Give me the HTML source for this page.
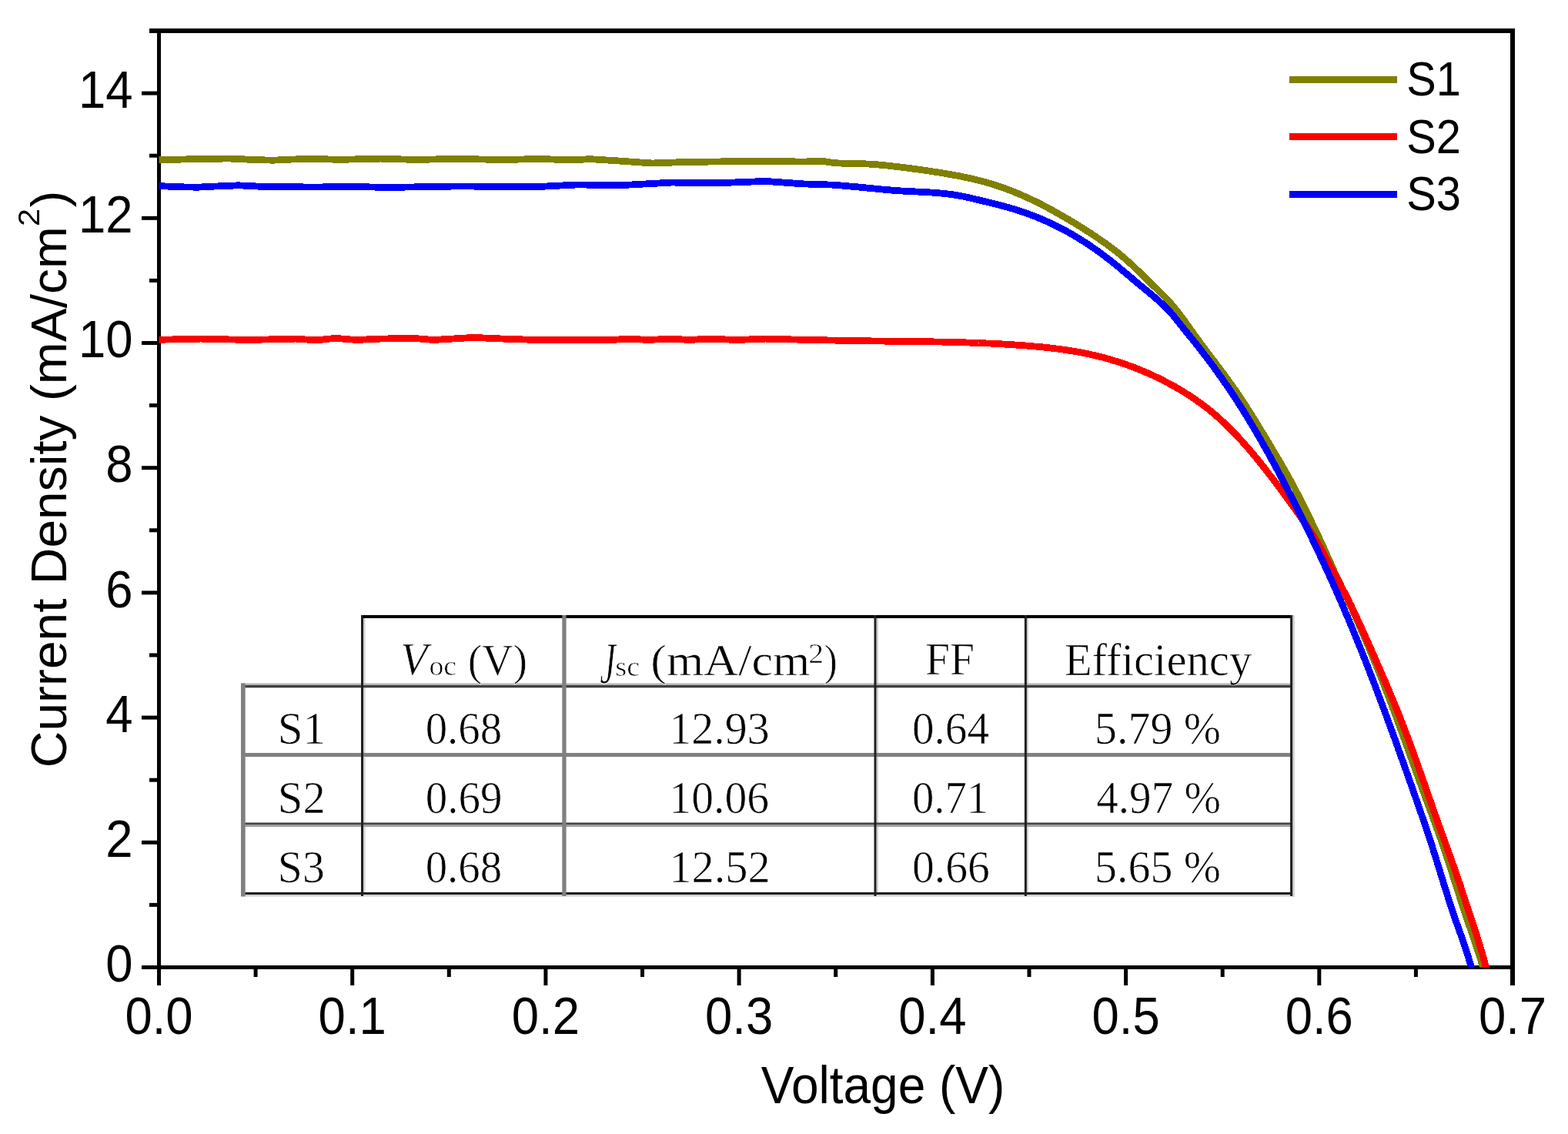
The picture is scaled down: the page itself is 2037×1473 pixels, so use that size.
<!DOCTYPE html><html><head><meta charset="utf-8"><title>J-V curves</title><style>html,body{margin:0;padding:0;background:#fff;}svg{display:block;}</style></head><body><svg width="2037" height="1473" viewBox="0 0 2037 1473">
<defs><clipPath id="pc"><rect x="206.5" y="40" width="1758.5" height="1216.6"/></clipPath></defs>
<rect x="0" y="0" width="2037" height="1473" fill="#fff"/>
<g fill="#000">
<rect x="204" y="37" width="5" height="1222"/>
<rect x="1962" y="37" width="6" height="1222"/>
<rect x="194" y="37" width="1774" height="6"/>
<rect x="184" y="1254" width="1784" height="5"/>
<rect x="184" y="1254.0" width="22" height="5"/>
<rect x="194" y="1172.9" width="12" height="5"/>
<rect x="184" y="1091.8" width="22" height="5"/>
<rect x="194" y="1010.7" width="12" height="5"/>
<rect x="184" y="929.6" width="22" height="5"/>
<rect x="194" y="848.5" width="12" height="5"/>
<rect x="184" y="767.4" width="22" height="5"/>
<rect x="194" y="686.3" width="12" height="5"/>
<rect x="184" y="605.2" width="22" height="5"/>
<rect x="194" y="524.1" width="12" height="5"/>
<rect x="184" y="443.0" width="22" height="5"/>
<rect x="194" y="361.9" width="12" height="5"/>
<rect x="184" y="280.8" width="22" height="5"/>
<rect x="194" y="199.7" width="12" height="5"/>
<rect x="184" y="118.6" width="22" height="5"/>
<rect x="204.0" y="1256" width="5" height="24"/>
<rect x="329.6" y="1256" width="5" height="13"/>
<rect x="455.2" y="1256" width="5" height="24"/>
<rect x="580.8" y="1256" width="5" height="13"/>
<rect x="706.4" y="1256" width="5" height="24"/>
<rect x="832.0" y="1256" width="5" height="13"/>
<rect x="957.6" y="1256" width="5" height="24"/>
<rect x="1083.2" y="1256" width="5" height="13"/>
<rect x="1208.9" y="1256" width="5" height="24"/>
<rect x="1334.5" y="1256" width="5" height="13"/>
<rect x="1460.1" y="1256" width="5" height="24"/>
<rect x="1585.7" y="1256" width="5" height="13"/>
<rect x="1711.3" y="1256" width="5" height="24"/>
<rect x="1836.9" y="1256" width="5" height="13"/>
<rect x="1962" y="1256" width="6" height="24"/>
</g>
<g clip-path="url(#pc)" fill="none" stroke-width="8.8" stroke-linejoin="round" shape-rendering="crispEdges">
<polyline points="206.0,207.4 232.0,207.2 256.0,206.5 298.0,206.0 330.0,207.5 354.6,208.2 380.0,207.0 408.6,206.3 440.5,207.4 494.5,206.1 541.0,207.5 592.7,206.3 654.0,207.6 700.0,206.4 744.0,207.9 766.0,206.6 798.0,208.6 847.0,212.0 884.0,210.7 921.0,210.1 994.5,209.2 1043.6,210.1 1068.0,209.1 1070.1,209.5 1072.2,209.9 1074.3,210.3 1076.3,210.6 1078.4,210.9 1080.5,211.1 1082.6,211.4 1084.7,211.6 1086.8,211.7 1088.9,211.9 1091.0,212.0 1093.2,212.1 1095.3,212.2 1097.4,212.3 1099.5,212.4 1101.6,212.4 1103.7,212.5 1105.8,212.5 1107.9,212.5 1110.0,212.6 1112.1,212.6 1114.3,212.6 1116.4,212.7 1118.5,212.7 1120.6,212.8 1122.7,212.8 1124.8,212.9 1126.9,213.0 1129.0,213.1 1131.1,213.2 1133.2,213.4 1135.3,213.5 1137.4,213.7 1139.5,213.8 1141.6,214.0 1143.7,214.2 1145.8,214.4 1147.9,214.6 1150.0,214.8 1152.1,215.0 1154.2,215.2 1156.3,215.5 1158.4,215.7 1160.5,216.0 1162.6,216.2 1164.7,216.5 1166.8,216.7 1168.9,217.0 1171.0,217.2 1173.1,217.5 1175.2,217.8 1177.3,218.0 1179.4,218.3 1181.5,218.6 1183.6,218.8 1185.7,219.1 1187.7,219.4 1189.8,219.7 1191.9,220.0 1194.0,220.2 1196.1,220.5 1198.2,220.8 1200.3,221.1 1202.4,221.4 1204.5,221.7 1206.6,222.0 1208.7,222.4 1210.8,222.7 1212.8,223.0 1214.9,223.3 1217.0,223.6 1219.1,224.0 1221.2,224.3 1223.3,224.7 1225.4,225.0 1227.4,225.3 1229.5,225.7 1231.6,226.1 1233.7,226.4 1235.7,226.8 1237.8,227.2 1239.9,227.6 1242.0,227.9 1244.0,228.3 1246.1,228.7 1248.2,229.1 1250.2,229.5 1252.3,230.0 1254.4,230.4 1256.4,230.8 1258.5,231.3 1260.5,231.7 1262.6,232.2 1264.6,232.6 1266.7,233.1 1268.7,233.6 1270.8,234.1 1272.8,234.6 1274.9,235.2 1276.9,235.7 1278.9,236.3 1281.0,236.8 1283.0,237.4 1285.0,238.0 1287.0,238.6 1289.1,239.2 1291.1,239.8 1293.1,240.5 1295.1,241.1 1297.1,241.8 1299.1,242.5 1301.1,243.2 1303.1,243.9 1305.1,244.6 1307.1,245.3 1309.1,246.1 1311.0,246.8 1313.0,247.6 1315.0,248.3 1316.9,249.1 1318.9,249.9 1320.8,250.7 1322.8,251.5 1324.7,252.4 1326.7,253.2 1328.6,254.0 1330.5,254.9 1332.5,255.7 1334.4,256.6 1336.3,257.5 1338.2,258.4 1340.1,259.3 1342.0,260.2 1343.9,261.1 1345.8,262.0 1347.7,263.0 1349.6,263.9 1351.4,264.9 1353.3,265.8 1355.2,266.8 1357.0,267.8 1358.9,268.7 1360.8,269.7 1362.6,270.7 1364.5,271.7 1366.3,272.7 1368.2,273.7 1370.0,274.8 1371.9,275.8 1373.7,276.8 1375.5,277.9 1377.4,278.9 1379.2,280.0 1381.0,281.0 1382.9,282.1 1384.7,283.1 1386.5,284.2 1388.3,285.3 1390.1,286.4 1391.9,287.4 1393.8,288.5 1395.6,289.6 1397.4,290.7 1399.2,291.8 1401.0,293.0 1402.8,294.1 1404.5,295.2 1406.3,296.3 1408.1,297.4 1409.9,298.6 1411.7,299.7 1413.5,300.9 1415.2,302.0 1417.0,303.1 1418.8,304.3 1420.5,305.5 1422.3,306.6 1424.0,307.8 1425.8,309.0 1427.5,310.2 1429.3,311.4 1431.0,312.6 1432.7,313.8 1434.5,315.0 1436.2,316.2 1437.9,317.4 1439.6,318.7 1441.3,319.9 1443.0,321.2 1444.7,322.4 1446.3,323.7 1448.0,325.0 1449.7,326.3 1451.3,327.6 1453.0,328.9 1454.6,330.2 1456.2,331.6 1457.8,332.9 1459.4,334.3 1461.0,335.7 1462.6,337.1 1464.2,338.5 1465.8,339.9 1467.4,341.3 1468.9,342.7 1470.5,344.1 1472.0,345.6 1473.6,347.0 1475.1,348.4 1476.6,349.9 1478.2,351.4 1479.7,352.8 1481.2,354.3 1482.7,355.8 1484.3,357.2 1485.8,358.7 1487.3,360.2 1488.8,361.7 1490.3,363.2 1491.8,364.6 1493.3,366.1 1494.8,367.6 1496.3,369.1 1497.8,370.6 1499.3,372.1 1500.8,373.5 1502.3,375.0 1503.9,376.5 1505.4,378.0 1506.9,379.4 1508.4,380.9 1509.9,382.4 1511.4,383.9 1512.8,385.4 1514.3,386.9 1515.8,388.4 1517.2,389.9 1518.6,391.4 1520.0,393.0 1521.4,394.6 1522.8,396.2 1524.1,397.8 1525.5,399.4 1526.8,401.0 1528.1,402.7 1529.4,404.3 1530.7,406.0 1532.0,407.6 1533.3,409.3 1534.5,411.0 1535.8,412.7 1537.0,414.4 1538.3,416.1 1539.5,417.8 1540.7,419.5 1542.0,421.2 1543.2,422.9 1544.4,424.7 1545.7,426.4 1546.9,428.1 1548.1,429.8 1549.3,431.5 1550.6,433.3 1551.8,435.0 1553.0,436.7 1554.3,438.4 1555.5,440.1 1556.8,441.8 1558.0,443.5 1559.3,445.2 1560.5,446.9 1561.8,448.6 1563.0,450.3 1564.3,452.0 1565.6,453.7 1566.8,455.4 1568.1,457.1 1569.4,458.8 1570.6,460.4 1571.9,462.1 1573.2,463.8 1574.5,465.5 1575.7,467.2 1577.0,468.9 1578.3,470.5 1579.5,472.2 1580.8,473.9 1582.1,475.6 1583.4,477.3 1584.6,479.0 1585.9,480.6 1587.1,482.3 1588.4,484.0 1589.7,485.7 1590.9,487.4 1592.2,489.1 1593.4,490.8 1594.6,492.5 1595.9,494.2 1597.1,495.9 1598.3,497.7 1599.6,499.4 1600.8,501.1 1602.0,502.8 1603.2,504.5 1604.4,506.3 1605.6,508.0 1606.8,509.8 1608.0,511.5 1609.2,513.2 1610.3,515.0 1611.5,516.7 1612.7,518.5 1613.8,520.3 1615.0,522.0 1616.2,523.8 1617.3,525.6 1618.5,527.3 1619.6,529.1 1620.8,530.9 1621.9,532.7 1623.0,534.4 1624.2,536.2 1625.3,538.0 1626.4,539.8 1627.5,541.6 1628.7,543.4 1629.8,545.2 1630.9,547.0 1632.0,548.7 1633.1,550.5 1634.2,552.3 1635.3,554.1 1636.4,555.9 1637.5,557.7 1638.6,559.6 1639.7,561.4 1640.8,563.2 1641.9,565.0 1643.0,566.8 1644.1,568.6 1645.2,570.4 1646.2,572.2 1647.3,574.0 1648.4,575.8 1649.5,577.6 1650.6,579.5 1651.6,581.3 1652.7,583.1 1653.8,584.9 1654.9,586.7 1656.0,588.5 1657.0,590.3 1658.1,592.1 1659.2,594.0 1660.2,595.8 1661.3,597.6 1662.4,599.4 1663.4,601.2 1664.5,603.0 1665.5,604.9 1666.6,606.7 1667.6,608.5 1668.7,610.3 1669.7,612.2 1670.8,614.0 1671.8,615.8 1672.8,617.7 1673.9,619.5 1674.9,621.3 1675.9,623.2 1676.9,625.0 1677.9,626.9 1678.9,628.7 1679.9,630.6 1680.9,632.5 1681.9,634.3 1682.9,636.2 1683.8,638.1 1684.8,639.9 1685.8,641.8 1686.7,643.7 1687.7,645.6 1688.7,647.5 1689.6,649.3 1690.6,651.2 1691.5,653.1 1692.5,655.0 1693.4,656.9 1694.4,658.8 1695.3,660.7 1696.2,662.6 1697.2,664.4 1698.1,666.3 1699.1,668.2 1700.0,670.1 1700.9,672.0 1701.8,673.9 1702.8,675.8 1703.7,677.7 1704.6,679.6 1705.5,681.5 1706.5,683.4 1707.4,685.3 1708.3,687.2 1709.2,689.1 1710.1,691.0 1711.0,692.9 1711.9,694.8 1712.8,696.7 1713.7,698.6 1714.6,700.6 1715.5,702.5 1716.4,704.4 1717.2,706.3 1718.1,708.2 1719.0,710.1 1719.9,712.0 1720.7,714.0 1721.6,715.9 1722.5,717.8 1723.3,719.7 1724.2,721.7 1725.1,723.6 1725.9,725.5 1726.8,727.4 1727.6,729.4 1728.5,731.3 1729.3,733.2 1730.2,735.1 1731.1,737.1 1731.9,739.0 1732.8,740.9 1733.7,742.8 1734.6,744.7 1735.5,746.6 1736.4,748.5 1737.3,750.4 1738.2,752.3 1739.1,754.2 1740.0,756.1 1740.9,758.0 1741.8,759.9 1742.7,761.8 1743.6,763.7 1744.5,765.6 1745.5,767.5 1746.3,769.4 1747.2,771.3 1748.1,773.2 1749.0,775.2 1749.9,777.1 1750.8,779.0 1751.6,780.9 1752.5,782.8 1753.4,784.7 1754.3,786.6 1755.1,788.5 1756.0,790.5 1756.9,792.4 1757.7,794.3 1758.6,796.2 1759.5,798.1 1760.3,800.1 1761.2,802.0 1762.0,803.9 1762.9,805.8 1763.7,807.8 1764.6,809.7 1765.4,811.6 1766.3,813.6 1767.1,815.5 1768.0,817.4 1768.8,819.4 1769.7,821.3 1770.5,823.2 1771.3,825.2 1772.2,827.1 1773.0,829.0 1773.8,831.0 1774.7,832.9 1775.5,834.9 1776.3,836.8 1777.1,838.7 1778.0,840.7 1778.8,842.6 1779.6,844.6 1780.4,846.5 1781.2,848.5 1782.0,850.4 1782.9,852.4 1783.7,854.3 1784.5,856.3 1785.3,858.2 1786.1,860.2 1786.9,862.1 1787.7,864.1 1788.5,866.0 1789.3,868.0 1790.1,870.0 1790.9,871.9 1791.7,873.9 1792.4,875.8 1793.2,877.8 1794.0,879.8 1794.8,881.7 1795.6,883.7 1796.3,885.6 1797.1,887.6 1797.9,889.6 1798.7,891.5 1799.4,893.5 1800.2,895.5 1801.0,897.4 1801.7,899.4 1802.5,901.4 1803.3,903.3 1804.0,905.3 1804.8,907.3 1805.5,909.3 1806.3,911.2 1807.0,913.2 1807.8,915.2 1808.5,917.1 1809.3,919.1 1810.0,921.1 1810.8,923.1 1811.5,925.0 1812.2,927.0 1813.0,929.0 1813.7,931.0 1814.4,933.0 1815.2,934.9 1815.9,936.9 1816.6,938.9 1817.4,940.9 1818.1,942.9 1818.8,944.8 1819.5,946.8 1820.3,948.8 1821.0,950.8 1821.7,952.8 1822.4,954.7 1823.1,956.7 1823.9,958.7 1824.6,960.7 1825.3,962.7 1826.0,964.7 1826.7,966.6 1827.4,968.6 1828.2,970.6 1828.9,972.6 1829.6,974.6 1830.3,976.6 1831.0,978.6 1831.7,980.5 1832.4,982.5 1833.2,984.5 1833.9,986.5 1834.6,988.5 1835.3,990.5 1836.0,992.4 1836.7,994.4 1837.5,996.4 1838.2,998.4 1838.9,1000.4 1839.6,1002.4 1840.3,1004.4 1841.0,1006.3 1841.8,1008.3 1842.5,1010.3 1843.2,1012.3 1843.9,1014.3 1844.6,1016.3 1845.4,1018.2 1846.1,1020.2 1846.8,1022.2 1847.5,1024.2 1848.3,1026.2 1849.0,1028.1 1849.7,1030.1 1850.4,1032.1 1851.2,1034.1 1851.9,1036.1 1852.6,1038.0 1853.4,1040.0 1854.1,1042.0 1854.8,1044.0 1855.6,1046.0 1856.3,1047.9 1857.0,1049.9 1857.8,1051.9 1858.5,1053.9 1859.2,1055.9 1860.0,1057.8 1860.7,1059.8 1861.4,1061.8 1862.2,1063.8 1862.9,1065.8 1863.6,1067.7 1864.3,1069.7 1865.1,1071.7 1865.8,1073.7 1866.5,1075.7 1867.2,1077.7 1867.9,1079.6 1868.6,1081.6 1869.4,1083.6 1870.1,1085.6 1870.8,1087.6 1871.5,1089.6 1872.2,1091.6 1872.9,1093.6 1873.6,1095.5 1874.3,1097.5 1874.9,1099.5 1875.6,1101.5 1876.3,1103.5 1877.0,1105.5 1877.7,1107.5 1878.3,1109.5 1879.0,1111.5 1879.7,1113.5 1880.3,1115.5 1881.0,1117.5 1881.7,1119.5 1882.3,1121.5 1883.0,1123.5 1883.6,1125.5 1884.3,1127.5 1884.9,1129.6 1885.6,1131.6 1886.2,1133.6 1886.9,1135.6 1887.5,1137.6 1888.1,1139.6 1888.8,1141.6 1889.4,1143.6 1890.1,1145.6 1890.7,1147.6 1891.4,1149.6 1892.0,1151.6 1892.7,1153.7 1893.3,1155.7 1893.9,1157.7 1894.6,1159.7 1895.2,1161.7 1895.9,1163.7 1896.5,1165.7 1897.2,1167.7 1897.8,1169.7 1898.5,1171.7 1899.1,1173.7 1899.8,1175.7 1900.4,1177.7 1901.1,1179.7 1901.8,1181.7 1902.4,1183.7 1903.1,1185.8 1903.8,1187.8 1904.4,1189.8 1905.1,1191.8 1905.8,1193.8 1906.5,1195.7 1907.2,1197.7 1907.8,1199.7 1908.5,1201.7 1909.2,1203.7 1909.9,1205.7 1910.6,1207.7 1911.3,1209.7 1912.0,1211.7 1912.6,1213.7 1913.3,1215.7 1914.0,1217.7 1914.7,1219.7 1915.4,1221.7 1916.0,1223.7 1916.7,1225.7 1917.4,1227.7 1918.1,1229.7 1918.7,1231.7 1919.4,1233.7 1920.1,1235.7 1920.7,1237.7 1921.4,1239.7 1922.0,1241.8 1922.6,1243.8 1923.3,1245.8 1923.9,1247.8 1924.5,1249.8 1925.2,1251.8 1925.8,1253.8 1926.4,1255.9 1927.0,1257.9 1927.6,1259.9 1928.2,1261.9 1928.7,1264.0 1929.3,1266.0" stroke="#808000"/>
<polyline points="206.0,441.3 261.0,440.1 323.0,441.5 384.0,440.1 411.0,441.9 435.6,439.3 462.6,441.5 494.5,440.1 536.3,439.3 563.3,441.5 614.8,438.4 654.1,440.1 691.0,441.3 798.0,441.3 817.8,440.1 842.0,441.5 871.8,440.1 896.0,441.5 921.0,440.1 957.7,441.5 994.5,440.1 1043.6,441.3 1100.0,442.4 1101.9,442.4 1103.8,442.5 1105.6,442.5 1107.5,442.5 1109.4,442.6 1111.3,442.6 1113.2,442.6 1115.1,442.6 1117.0,442.7 1118.8,442.7 1120.7,442.7 1122.6,442.7 1124.5,442.8 1126.4,442.8 1128.3,442.8 1130.1,442.8 1132.0,442.9 1133.9,442.9 1135.8,442.9 1137.7,442.9 1139.6,442.9 1141.4,443.0 1143.3,443.0 1145.2,443.0 1147.1,443.0 1149.0,443.1 1150.9,443.1 1152.8,443.1 1154.6,443.1 1156.5,443.1 1158.4,443.2 1160.3,443.2 1162.2,443.2 1164.1,443.2 1166.0,443.2 1167.8,443.3 1169.7,443.3 1171.6,443.3 1173.5,443.3 1175.4,443.3 1177.3,443.4 1179.1,443.4 1181.0,443.4 1182.9,443.4 1184.8,443.5 1186.7,443.5 1188.6,443.5 1190.5,443.5 1192.3,443.6 1194.2,443.6 1196.1,443.6 1198.0,443.6 1199.9,443.7 1201.8,443.7 1203.7,443.7 1205.5,443.7 1207.4,443.8 1209.3,443.8 1211.2,443.8 1213.1,443.9 1215.0,443.9 1216.9,443.9 1218.7,444.0 1220.6,444.0 1222.5,444.0 1224.4,444.1 1226.3,444.1 1228.2,444.2 1230.0,444.2 1231.9,444.3 1233.8,444.3 1235.7,444.3 1237.6,444.4 1239.5,444.4 1241.4,444.5 1243.2,444.5 1245.1,444.6 1247.0,444.6 1248.9,444.7 1250.8,444.8 1252.7,444.8 1254.5,444.9 1256.4,444.9 1258.3,445.0 1260.2,445.1 1262.1,445.1 1264.0,445.2 1265.8,445.3 1267.7,445.3 1269.6,445.4 1271.5,445.5 1273.4,445.5 1275.3,445.6 1277.1,445.7 1279.0,445.8 1280.9,445.9 1282.8,445.9 1284.7,446.0 1286.6,446.1 1288.4,446.2 1290.3,446.3 1292.2,446.4 1294.1,446.5 1296.0,446.6 1297.8,446.7 1299.7,446.8 1301.6,446.9 1303.5,447.0 1305.4,447.1 1307.2,447.2 1309.1,447.4 1311.0,447.5 1312.9,447.6 1314.8,447.7 1316.6,447.8 1318.5,448.0 1320.4,448.1 1322.3,448.2 1324.2,448.4 1326.0,448.5 1327.9,448.6 1329.8,448.8 1331.7,448.9 1333.6,449.1 1335.4,449.2 1337.3,449.4 1339.2,449.5 1341.1,449.7 1343.0,449.9 1344.8,450.0 1346.7,450.2 1348.6,450.4 1350.5,450.5 1352.3,450.7 1354.2,450.9 1356.1,451.1 1358.0,451.3 1359.8,451.5 1361.7,451.7 1363.6,451.9 1365.4,452.1 1367.3,452.3 1369.2,452.5 1371.1,452.8 1372.9,453.0 1374.8,453.2 1376.7,453.5 1378.5,453.7 1380.4,454.0 1382.3,454.2 1384.1,454.5 1386.0,454.8 1387.8,455.1 1389.7,455.4 1391.6,455.7 1393.4,456.0 1395.3,456.3 1397.1,456.6 1399.0,456.9 1400.8,457.2 1402.7,457.6 1404.5,457.9 1406.4,458.3 1408.2,458.6 1410.1,459.0 1411.9,459.4 1413.8,459.8 1415.6,460.2 1417.4,460.6 1419.3,461.0 1421.1,461.4 1423.0,461.8 1424.8,462.3 1426.6,462.7 1428.4,463.2 1430.3,463.7 1432.1,464.1 1433.9,464.6 1435.7,465.1 1437.6,465.6 1439.4,466.1 1441.2,466.6 1443.0,467.2 1444.8,467.7 1446.6,468.3 1448.4,468.8 1450.2,469.4 1452.0,469.9 1453.8,470.5 1455.6,471.1 1457.4,471.7 1459.2,472.3 1461.0,472.9 1462.8,473.5 1464.5,474.2 1466.3,474.8 1468.1,475.4 1469.9,476.1 1471.6,476.8 1473.4,477.4 1475.2,478.1 1476.9,478.8 1478.7,479.5 1480.4,480.2 1482.2,480.9 1483.9,481.6 1485.7,482.4 1487.4,483.1 1489.1,483.9 1490.9,484.6 1492.6,485.4 1494.3,486.1 1496.0,486.9 1497.8,487.7 1499.5,488.5 1501.2,489.3 1502.9,490.1 1504.6,490.9 1506.3,491.8 1508.0,492.6 1509.7,493.4 1511.3,494.3 1513.0,495.2 1514.7,496.0 1516.4,496.9 1518.0,497.8 1519.7,498.7 1521.3,499.6 1523.0,500.5 1524.6,501.4 1526.3,502.3 1527.9,503.3 1529.5,504.2 1531.2,505.1 1532.8,506.1 1534.4,507.1 1536.0,508.0 1537.6,509.0 1539.2,510.0 1540.8,511.0 1542.4,512.0 1544.0,513.0 1545.6,514.1 1547.1,515.1 1548.7,516.1 1550.3,517.2 1551.8,518.2 1553.4,519.3 1554.9,520.4 1556.4,521.5 1558.0,522.6 1559.5,523.7 1561.0,524.8 1562.5,525.9 1564.0,527.0 1565.5,528.2 1567.0,529.3 1568.5,530.5 1570.0,531.6 1571.4,532.8 1572.9,534.0 1574.3,535.2 1575.8,536.4 1577.2,537.6 1578.7,538.8 1580.1,540.1 1581.5,541.3 1582.9,542.6 1584.3,543.8 1585.7,545.1 1587.1,546.4 1588.5,547.6 1589.9,548.9 1591.2,550.2 1592.6,551.5 1593.9,552.8 1595.3,554.2 1596.6,555.5 1598.0,556.8 1599.3,558.1 1600.6,559.5 1602.0,560.8 1603.3,562.2 1604.6,563.6 1605.9,564.9 1607.2,566.3 1608.5,567.7 1609.8,569.1 1611.0,570.5 1612.3,571.9 1613.6,573.3 1614.8,574.7 1616.1,576.1 1617.4,577.5 1618.6,578.9 1619.8,580.3 1621.1,581.7 1622.3,583.2 1623.5,584.6 1624.8,586.0 1626.0,587.5 1627.2,588.9 1628.4,590.4 1629.6,591.8 1630.8,593.3 1632.0,594.7 1633.2,596.2 1634.4,597.6 1635.6,599.1 1636.8,600.6 1637.9,602.0 1639.1,603.5 1640.3,605.0 1641.5,606.5 1642.6,607.9 1643.8,609.4 1644.9,610.9 1646.1,612.4 1647.2,613.9 1648.4,615.4 1649.5,616.9 1650.7,618.4 1651.8,619.9 1653.0,621.3 1654.1,622.8 1655.2,624.4 1656.4,625.9 1657.5,627.4 1658.6,628.9 1659.7,630.4 1660.9,631.9 1662.0,633.4 1663.1,634.9 1664.2,636.4 1665.4,637.9 1666.5,639.4 1667.6,641.0 1668.7,642.5 1669.8,644.0 1670.9,645.5 1672.0,647.0 1673.2,648.6 1674.3,650.1 1675.4,651.6 1676.5,653.1 1677.6,654.7 1678.7,656.2 1679.8,657.7 1680.9,659.2 1682.0,660.8 1683.1,662.3 1684.2,663.8 1685.3,665.4 1686.4,666.9 1687.5,668.4 1688.6,670.0 1689.7,671.5 1690.8,673.1 1691.8,674.6 1692.9,676.2 1694.0,677.7 1695.0,679.3 1696.1,680.8 1697.2,682.4 1698.2,683.9 1699.3,685.5 1700.3,687.1 1701.3,688.7 1702.3,690.2 1703.4,691.8 1704.4,693.4 1705.4,695.0 1706.4,696.6 1707.4,698.2 1708.4,699.8 1709.3,701.4 1710.3,703.0 1711.3,704.6 1712.2,706.3 1713.2,707.9 1714.1,709.5 1715.1,711.1 1716.0,712.8 1716.9,714.4 1717.8,716.0 1718.8,717.7 1719.7,719.3 1720.6,721.0 1721.5,722.6 1722.4,724.3 1723.3,725.9 1724.2,727.6 1725.1,729.2 1726.0,730.9 1726.9,732.5 1727.8,734.2 1728.7,735.9 1729.5,737.5 1730.4,739.2 1731.3,740.8 1732.2,742.5 1733.1,744.1 1734.0,745.8 1734.9,747.5 1735.8,749.1 1736.7,750.8 1737.6,752.4 1738.5,754.1 1739.3,755.7 1740.2,757.4 1741.1,759.0 1742.0,760.7 1742.9,762.4 1743.8,764.0 1744.6,765.7 1745.5,767.4 1746.4,769.0 1747.2,770.7 1748.1,772.4 1748.9,774.1 1749.8,775.7 1750.6,777.4 1751.4,779.1 1752.3,780.8 1753.1,782.5 1753.9,784.2 1754.8,785.9 1755.6,787.5 1756.4,789.2 1757.2,790.9 1758.0,792.6 1758.8,794.3 1759.6,796.0 1760.5,797.7 1761.3,799.4 1762.1,801.1 1762.8,802.9 1763.6,804.6 1764.4,806.3 1765.2,808.0 1766.0,809.7 1766.8,811.4 1767.6,813.1 1768.4,814.8 1769.1,816.5 1769.9,818.3 1770.7,820.0 1771.5,821.7 1772.3,823.4 1773.0,825.1 1773.8,826.9 1774.6,828.6 1775.3,830.3 1776.1,832.0 1776.9,833.7 1777.6,835.5 1778.4,837.2 1779.2,838.9 1779.9,840.6 1780.7,842.4 1781.5,844.1 1782.2,845.8 1783.0,847.5 1783.8,849.2 1784.5,851.0 1785.3,852.7 1786.0,854.4 1786.8,856.1 1787.6,857.9 1788.3,859.6 1789.1,861.3 1789.8,863.1 1790.6,864.8 1791.3,866.5 1792.1,868.2 1792.8,870.0 1793.6,871.7 1794.3,873.4 1795.1,875.2 1795.8,876.9 1796.6,878.6 1797.3,880.3 1798.1,882.1 1798.8,883.8 1799.6,885.5 1800.3,887.3 1801.0,889.0 1801.8,890.7 1802.5,892.5 1803.3,894.2 1804.0,895.9 1804.7,897.7 1805.4,899.4 1806.2,901.2 1806.9,902.9 1807.6,904.6 1808.4,906.4 1809.1,908.1 1809.8,909.9 1810.5,911.6 1811.2,913.3 1811.9,915.1 1812.7,916.8 1813.4,918.6 1814.1,920.3 1814.8,922.1 1815.5,923.8 1816.2,925.6 1816.9,927.3 1817.6,929.1 1818.3,930.8 1819.0,932.6 1819.7,934.3 1820.4,936.1 1821.1,937.8 1821.7,939.6 1822.4,941.3 1823.1,943.1 1823.8,944.8 1824.5,946.6 1825.1,948.4 1825.8,950.1 1826.5,951.9 1827.1,953.6 1827.8,955.4 1828.5,957.2 1829.1,958.9 1829.8,960.7 1830.5,962.5 1831.1,964.2 1831.8,966.0 1832.4,967.8 1833.1,969.5 1833.7,971.3 1834.4,973.1 1835.0,974.8 1835.7,976.6 1836.3,978.4 1836.9,980.2 1837.6,981.9 1838.2,983.7 1838.9,985.5 1839.5,987.3 1840.1,989.0 1840.8,990.8 1841.4,992.6 1842.0,994.4 1842.7,996.1 1843.3,997.9 1843.9,999.7 1844.5,1001.5 1845.2,1003.2 1845.8,1005.0 1846.4,1006.8 1847.1,1008.6 1847.7,1010.4 1848.3,1012.1 1848.9,1013.9 1849.6,1015.7 1850.2,1017.5 1850.8,1019.2 1851.4,1021.0 1852.0,1022.8 1852.7,1024.6 1853.3,1026.4 1853.9,1028.1 1854.5,1029.9 1855.2,1031.7 1855.8,1033.5 1856.4,1035.3 1857.0,1037.0 1857.6,1038.8 1858.3,1040.6 1858.9,1042.4 1859.5,1044.2 1860.1,1045.9 1860.8,1047.7 1861.4,1049.5 1862.0,1051.3 1862.6,1053.1 1863.3,1054.8 1863.9,1056.6 1864.5,1058.4 1865.1,1060.2 1865.8,1061.9 1866.4,1063.7 1867.0,1065.5 1867.7,1067.3 1868.3,1069.0 1868.9,1070.8 1869.6,1072.6 1870.2,1074.4 1870.8,1076.1 1871.5,1077.9 1872.1,1079.7 1872.8,1081.5 1873.4,1083.2 1874.0,1085.0 1874.7,1086.8 1875.3,1088.5 1875.9,1090.3 1876.6,1092.1 1877.2,1093.9 1877.9,1095.6 1878.5,1097.4 1879.1,1099.2 1879.8,1100.9 1880.4,1102.7 1881.1,1104.5 1881.7,1106.3 1882.3,1108.0 1883.0,1109.8 1883.6,1111.6 1884.3,1113.3 1884.9,1115.1 1885.5,1116.9 1886.2,1118.7 1886.8,1120.4 1887.4,1122.2 1888.0,1124.0 1888.7,1125.8 1889.3,1127.5 1889.9,1129.3 1890.5,1131.1 1891.2,1132.9 1891.8,1134.7 1892.4,1136.4 1893.0,1138.2 1893.6,1140.0 1894.2,1141.8 1894.8,1143.6 1895.4,1145.4 1896.1,1147.1 1896.7,1148.9 1897.3,1150.7 1897.9,1152.5 1898.4,1154.3 1899.0,1156.1 1899.6,1157.9 1900.2,1159.7 1900.8,1161.5 1901.4,1163.2 1902.0,1165.0 1902.6,1166.8 1903.2,1168.6 1903.8,1170.4 1904.4,1172.2 1904.9,1174.0 1905.5,1175.8 1906.1,1177.6 1906.7,1179.4 1907.3,1181.2 1907.9,1183.0 1908.5,1184.7 1909.1,1186.5 1909.6,1188.3 1910.2,1190.1 1910.8,1191.9 1911.4,1193.7 1912.0,1195.5 1912.6,1197.3 1913.2,1199.1 1913.8,1200.9 1914.4,1202.7 1915.0,1204.4 1915.5,1206.2 1916.1,1208.0 1916.7,1209.8 1917.3,1211.6 1917.9,1213.4 1918.5,1215.2 1919.0,1217.0 1919.6,1218.8 1920.2,1220.6 1920.7,1222.4 1921.3,1224.2 1921.8,1226.0 1922.4,1227.8 1922.9,1229.6 1923.5,1231.4 1924.0,1233.2 1924.6,1235.0 1925.1,1236.8 1925.6,1238.6 1926.1,1240.4 1926.6,1242.2 1927.1,1244.0 1927.6,1245.9 1928.1,1247.7 1928.6,1249.5 1929.1,1251.3 1929.5,1253.2 1930.0,1255.0 1930.5,1256.8 1930.9,1258.6 1931.3,1260.5 1931.8,1262.3 1932.2,1264.2 1932.6,1266.0" stroke="#ff0000"/>
<polyline points="206.0,241.5 232.0,242.8 256.5,243.2 276.0,242.2 310.0,240.8 344.8,242.6 408.6,243.0 465.0,242.5 502.0,243.5 592.7,242.0 700.0,242.5 749.0,240.0 810.0,240.5 871.8,237.1 945.5,237.3 994.5,235.4 1043.6,238.9 1080.5,240.1 1082.6,240.2 1084.6,240.4 1086.7,240.5 1088.7,240.7 1090.8,240.8 1092.8,241.0 1094.9,241.2 1096.9,241.3 1099.0,241.5 1101.0,241.7 1103.1,241.9 1105.1,242.1 1107.2,242.2 1109.2,242.4 1111.3,242.6 1113.3,242.8 1115.4,243.0 1117.4,243.2 1119.4,243.4 1121.5,243.6 1123.5,243.8 1125.6,244.0 1127.6,244.2 1129.7,244.4 1131.7,244.6 1133.8,244.8 1135.8,245.0 1137.8,245.2 1139.9,245.4 1141.9,245.6 1144.0,245.8 1146.0,246.0 1148.1,246.2 1150.1,246.4 1152.2,246.6 1154.2,246.7 1156.3,246.9 1158.3,247.1 1160.4,247.2 1162.4,247.4 1164.5,247.5 1166.5,247.7 1168.6,247.8 1170.6,248.0 1172.7,248.1 1174.7,248.2 1176.8,248.3 1178.9,248.4 1180.9,248.5 1183.0,248.6 1185.1,248.7 1187.1,248.8 1189.2,248.9 1191.2,249.0 1193.3,249.1 1195.4,249.2 1197.4,249.3 1199.5,249.4 1201.6,249.6 1203.6,249.7 1205.7,249.8 1207.7,249.9 1209.8,250.0 1211.9,250.2 1213.9,250.3 1216.0,250.5 1218.0,250.6 1220.1,250.8 1222.1,251.0 1224.2,251.2 1226.2,251.4 1228.2,251.6 1230.3,251.8 1232.3,252.1 1234.3,252.3 1236.4,252.6 1238.4,252.9 1240.4,253.2 1242.4,253.5 1244.5,253.9 1246.5,254.3 1248.5,254.6 1250.5,255.0 1252.5,255.4 1254.5,255.8 1256.5,256.3 1258.5,256.7 1260.5,257.2 1262.5,257.6 1264.5,258.1 1266.5,258.6 1268.5,259.0 1270.5,259.5 1272.5,260.0 1274.5,260.5 1276.5,261.0 1278.5,261.5 1280.5,261.9 1282.5,262.4 1284.5,262.9 1286.5,263.4 1288.5,263.9 1290.5,264.4 1292.5,264.9 1294.5,265.4 1296.5,265.9 1298.5,266.4 1300.5,267.0 1302.5,267.5 1304.4,268.0 1306.4,268.6 1308.4,269.1 1310.4,269.7 1312.4,270.3 1314.3,270.8 1316.3,271.4 1318.3,272.0 1320.2,272.6 1322.2,273.3 1324.2,273.9 1326.1,274.5 1328.1,275.2 1330.0,275.8 1331.9,276.5 1333.9,277.2 1335.8,277.9 1337.7,278.6 1339.7,279.3 1341.6,280.0 1343.5,280.8 1345.4,281.5 1347.3,282.3 1349.2,283.1 1351.1,283.8 1353.0,284.6 1354.9,285.4 1356.8,286.3 1358.6,287.1 1360.5,287.9 1362.4,288.8 1364.3,289.6 1366.1,290.5 1368.0,291.4 1369.8,292.3 1371.7,293.2 1373.5,294.1 1375.3,295.0 1377.2,296.0 1379.0,296.9 1380.8,297.9 1382.6,298.9 1384.4,299.8 1386.2,300.8 1388.0,301.8 1389.8,302.8 1391.6,303.9 1393.4,304.9 1395.2,305.9 1397.0,307.0 1398.7,308.1 1400.5,309.1 1402.3,310.2 1404.0,311.3 1405.8,312.4 1407.5,313.5 1409.2,314.6 1411.0,315.7 1412.7,316.9 1414.4,318.0 1416.1,319.1 1417.8,320.3 1419.5,321.5 1421.2,322.6 1422.9,323.8 1424.6,325.0 1426.3,326.2 1427.9,327.4 1429.6,328.6 1431.3,329.8 1432.9,331.1 1434.6,332.3 1436.2,333.5 1437.8,334.8 1439.5,336.1 1441.1,337.3 1442.7,338.6 1444.3,339.9 1445.9,341.1 1447.5,342.4 1449.1,343.7 1450.7,345.0 1452.3,346.3 1453.9,347.6 1455.5,348.9 1457.0,350.3 1458.6,351.6 1460.2,352.9 1461.8,354.2 1463.3,355.5 1464.9,356.9 1466.5,358.2 1468.0,359.5 1469.6,360.8 1471.2,362.2 1472.7,363.5 1474.3,364.8 1475.9,366.1 1477.5,367.4 1479.0,368.8 1480.6,370.1 1482.2,371.4 1483.8,372.7 1485.4,374.0 1487.0,375.3 1488.5,376.6 1490.1,377.9 1491.7,379.2 1493.3,380.5 1494.9,381.9 1496.5,383.2 1498.1,384.5 1499.6,385.8 1501.2,387.2 1502.7,388.5 1504.3,389.9 1505.8,391.2 1507.3,392.6 1508.9,394.0 1510.4,395.4 1511.8,396.8 1513.3,398.2 1514.8,399.7 1516.2,401.1 1517.6,402.6 1519.0,404.1 1520.4,405.6 1521.8,407.1 1523.1,408.7 1524.4,410.3 1525.8,411.9 1527.0,413.5 1528.3,415.1 1529.6,416.7 1530.9,418.3 1532.2,419.9 1533.4,421.5 1534.7,423.1 1536.0,424.8 1537.3,426.4 1538.6,428.0 1539.9,429.5 1541.2,431.1 1542.5,432.7 1543.7,434.3 1545.0,435.9 1546.3,437.5 1547.6,439.1 1548.9,440.7 1550.2,442.3 1551.5,443.9 1552.8,445.5 1554.1,447.1 1555.3,448.7 1556.6,450.3 1557.9,451.9 1559.1,453.6 1560.4,455.2 1561.7,456.8 1562.9,458.4 1564.2,460.1 1565.4,461.7 1566.7,463.3 1567.9,465.0 1569.2,466.6 1570.4,468.3 1571.7,469.9 1572.9,471.6 1574.1,473.2 1575.3,474.9 1576.6,476.5 1577.8,478.2 1579.0,479.9 1580.2,481.5 1581.4,483.2 1582.6,484.9 1583.8,486.6 1585.0,488.2 1586.2,489.9 1587.4,491.6 1588.6,493.3 1589.7,495.0 1590.9,496.7 1592.1,498.4 1593.3,500.1 1594.4,501.8 1595.6,503.5 1596.7,505.2 1597.9,506.9 1599.0,508.6 1600.2,510.3 1601.3,512.0 1602.4,513.7 1603.6,515.4 1604.7,517.2 1605.8,518.9 1606.9,520.6 1608.0,522.3 1609.2,524.1 1610.3,525.8 1611.4,527.5 1612.5,529.3 1613.6,531.0 1614.7,532.7 1615.8,534.5 1616.8,536.2 1617.9,538.0 1619.0,539.7 1620.1,541.5 1621.1,543.2 1622.2,545.0 1623.3,546.8 1624.3,548.5 1625.4,550.3 1626.5,552.0 1627.5,553.8 1628.6,555.6 1629.6,557.3 1630.7,559.1 1631.7,560.9 1632.7,562.7 1633.8,564.4 1634.8,566.2 1635.8,568.0 1636.9,569.8 1637.9,571.5 1638.9,573.3 1639.9,575.1 1640.9,576.9 1641.9,578.7 1643.0,580.5 1644.0,582.3 1645.0,584.1 1646.0,585.9 1647.0,587.7 1648.0,589.5 1649.0,591.3 1650.0,593.1 1650.9,594.9 1651.9,596.7 1652.9,598.5 1653.9,600.3 1654.9,602.1 1655.9,603.9 1656.8,605.7 1657.8,607.5 1658.8,609.3 1659.8,611.1 1660.7,613.0 1661.7,614.8 1662.6,616.6 1663.6,618.4 1664.6,620.2 1665.5,622.0 1666.5,623.9 1667.4,625.7 1668.4,627.5 1669.3,629.3 1670.3,631.2 1671.2,633.0 1672.2,634.8 1673.1,636.6 1674.1,638.5 1675.0,640.3 1676.0,642.1 1676.9,644.0 1677.8,645.8 1678.8,647.6 1679.7,649.5 1680.6,651.3 1681.6,653.1 1682.5,655.0 1683.4,656.8 1684.3,658.6 1685.3,660.5 1686.2,662.3 1687.1,664.2 1688.0,666.0 1689.0,667.8 1689.9,669.7 1690.8,671.5 1691.7,673.4 1692.6,675.2 1693.5,677.1 1694.4,678.9 1695.3,680.7 1696.3,682.6 1697.2,684.4 1698.1,686.3 1699.0,688.1 1699.9,690.0 1700.8,691.8 1701.7,693.7 1702.6,695.5 1703.5,697.4 1704.4,699.2 1705.2,701.1 1706.1,703.0 1707.0,704.8 1707.9,706.7 1708.8,708.5 1709.7,710.4 1710.6,712.2 1711.5,714.1 1712.3,716.0 1713.2,717.8 1714.1,719.7 1715.0,721.5 1715.8,723.4 1716.7,725.3 1717.6,727.1 1718.4,729.0 1719.3,730.9 1720.2,732.7 1721.0,734.6 1721.9,736.5 1722.8,738.3 1723.6,740.2 1724.5,742.1 1725.3,744.0 1726.2,745.8 1727.0,747.7 1727.9,749.6 1728.7,751.4 1729.6,753.3 1730.4,755.2 1731.3,757.1 1732.1,758.9 1732.9,760.8 1733.8,762.7 1734.6,764.6 1735.5,766.5 1736.3,768.3 1737.1,770.2 1737.9,772.1 1738.8,774.0 1739.6,775.9 1740.4,777.8 1741.2,779.7 1742.1,781.5 1742.9,783.4 1743.7,785.3 1744.5,787.2 1745.3,789.1 1746.1,791.0 1746.9,792.9 1747.7,794.8 1748.5,796.7 1749.4,798.6 1750.2,800.4 1751.0,802.3 1751.8,804.2 1752.5,806.1 1753.3,808.0 1754.1,809.9 1754.9,811.8 1755.7,813.7 1756.5,815.6 1757.3,817.5 1758.1,819.4 1758.9,821.3 1759.6,823.2 1760.4,825.1 1761.2,827.0 1762.0,828.9 1762.8,830.8 1763.5,832.8 1764.3,834.7 1765.1,836.6 1765.8,838.5 1766.6,840.4 1767.4,842.3 1768.1,844.2 1768.9,846.1 1769.7,848.0 1770.4,849.9 1771.2,851.8 1771.9,853.8 1772.7,855.7 1773.5,857.6 1774.2,859.5 1775.0,861.4 1775.7,863.3 1776.5,865.2 1777.2,867.2 1778.0,869.1 1778.7,871.0 1779.5,872.9 1780.2,874.8 1780.9,876.7 1781.7,878.7 1782.4,880.6 1783.2,882.5 1783.9,884.4 1784.6,886.3 1785.4,888.3 1786.1,890.2 1786.8,892.1 1787.6,894.0 1788.3,896.0 1789.0,897.9 1789.8,899.8 1790.5,901.7 1791.2,903.7 1791.9,905.6 1792.7,907.5 1793.4,909.4 1794.1,911.4 1794.8,913.3 1795.5,915.2 1796.3,917.1 1797.0,919.1 1797.7,921.0 1798.4,922.9 1799.1,924.9 1799.8,926.8 1800.6,928.7 1801.3,930.7 1802.0,932.6 1802.7,934.5 1803.4,936.4 1804.1,938.4 1804.8,940.3 1805.5,942.2 1806.2,944.2 1806.9,946.1 1807.6,948.0 1808.4,950.0 1809.1,951.9 1809.8,953.8 1810.5,955.8 1811.2,957.7 1811.9,959.6 1812.6,961.6 1813.3,963.5 1814.0,965.5 1814.7,967.4 1815.4,969.3 1816.1,971.3 1816.7,973.2 1817.4,975.1 1818.1,977.1 1818.8,979.0 1819.5,980.9 1820.2,982.9 1820.9,984.8 1821.6,986.8 1822.3,988.7 1823.0,990.6 1823.7,992.6 1824.4,994.5 1825.1,996.5 1825.7,998.4 1826.4,1000.3 1827.1,1002.3 1827.8,1004.2 1828.5,1006.1 1829.2,1008.1 1829.9,1010.0 1830.6,1012.0 1831.2,1013.9 1831.9,1015.8 1832.6,1017.8 1833.3,1019.7 1834.0,1021.7 1834.7,1023.6 1835.3,1025.6 1836.0,1027.5 1836.7,1029.4 1837.4,1031.4 1838.1,1033.3 1838.8,1035.3 1839.4,1037.2 1840.1,1039.1 1840.8,1041.1 1841.5,1043.0 1842.2,1045.0 1842.8,1046.9 1843.5,1048.8 1844.2,1050.8 1844.9,1052.7 1845.5,1054.7 1846.2,1056.6 1846.9,1058.6 1847.5,1060.5 1848.2,1062.5 1848.9,1064.4 1849.5,1066.3 1850.2,1068.3 1850.9,1070.2 1851.5,1072.2 1852.2,1074.1 1852.8,1076.1 1853.5,1078.0 1854.2,1080.0 1854.8,1081.9 1855.5,1083.9 1856.1,1085.8 1856.7,1087.8 1857.4,1089.7 1858.0,1091.7 1858.7,1093.7 1859.3,1095.6 1859.9,1097.6 1860.6,1099.5 1861.2,1101.5 1861.8,1103.4 1862.4,1105.4 1863.1,1107.4 1863.7,1109.3 1864.3,1111.3 1864.9,1113.3 1865.5,1115.2 1866.1,1117.2 1866.7,1119.1 1867.3,1121.1 1867.9,1123.1 1868.6,1125.0 1869.2,1127.0 1869.8,1129.0 1870.4,1130.9 1871.0,1132.9 1871.6,1134.9 1872.2,1136.8 1872.8,1138.8 1873.4,1140.8 1874.0,1142.7 1874.6,1144.7 1875.2,1146.7 1875.8,1148.6 1876.4,1150.6 1877.1,1152.6 1877.7,1154.5 1878.3,1156.5 1878.9,1158.4 1879.5,1160.4 1880.1,1162.4 1880.8,1164.3 1881.4,1166.3 1882.0,1168.2 1882.6,1170.2 1883.3,1172.2 1883.9,1174.1 1884.6,1176.1 1885.2,1178.0 1885.8,1180.0 1886.5,1181.9 1887.2,1183.9 1887.8,1185.8 1888.5,1187.8 1889.1,1189.7 1889.8,1191.7 1890.5,1193.6 1891.2,1195.6 1891.8,1197.5 1892.5,1199.4 1893.2,1201.4 1893.9,1203.3 1894.6,1205.3 1895.3,1207.2 1896.0,1209.1 1896.6,1211.1 1897.3,1213.0 1898.0,1215.0 1898.7,1216.9 1899.4,1218.8 1900.1,1220.8 1900.7,1222.7 1901.4,1224.7 1902.1,1226.6 1902.7,1228.6 1903.4,1230.5 1904.0,1232.5 1904.7,1234.4 1905.3,1236.4 1906.0,1238.3 1906.6,1240.3 1907.2,1242.3 1907.8,1244.2 1908.4,1246.2 1909.0,1248.1 1909.6,1250.1 1910.2,1252.1 1910.8,1254.1 1911.4,1256.1 1911.9,1258.0 1912.4,1260.0 1913.0,1262.0 1913.5,1264.0 1914.0,1266.0" stroke="#0000ff"/>
</g>
<g>
<rect x="1675" y="99" width="140" height="9" fill="#808000"/>
<rect x="1675" y="173" width="140" height="9" fill="#ff0000"/>
<rect x="1675" y="248" width="140" height="9" fill="#0000ff"/>
</g>
<g fill="#000">
<text x="0" y="0" font-size="57.7" style="font-family:&quot;Liberation Sans&quot;, sans-serif" transform="translate(1827.28,124.28) scale(1,1.1015)">S1</text>
<text x="0" y="0" font-size="57.7" style="font-family:&quot;Liberation Sans&quot;, sans-serif" transform="translate(1827.28,199.18) scale(1,1.0991)">S2</text>
<text x="0" y="0" font-size="57.7" style="font-family:&quot;Liberation Sans&quot;, sans-serif" transform="translate(1827.28,273.28) scale(1,1.0967)">S3</text>
<text x="0" y="0" font-size="63.5" text-anchor="end" style="font-family:&quot;Liberation Sans&quot;, sans-serif" transform="translate(172.6,1275.1) scale(1,1.087)">0</text>
<text x="0" y="0" font-size="63.5" text-anchor="end" style="font-family:&quot;Liberation Sans&quot;, sans-serif" transform="translate(172.6,1112.9) scale(1,1.087)">2</text>
<text x="0" y="0" font-size="63.5" text-anchor="end" style="font-family:&quot;Liberation Sans&quot;, sans-serif" transform="translate(172.6,950.7) scale(1,1.087)">4</text>
<text x="0" y="0" font-size="63.5" text-anchor="end" style="font-family:&quot;Liberation Sans&quot;, sans-serif" transform="translate(172.6,788.5) scale(1,1.087)">6</text>
<text x="0" y="0" font-size="63.5" text-anchor="end" style="font-family:&quot;Liberation Sans&quot;, sans-serif" transform="translate(172.6,626.3) scale(1,1.087)">8</text>
<text x="0" y="0" font-size="63.5" text-anchor="end" style="font-family:&quot;Liberation Sans&quot;, sans-serif" transform="translate(172.6,464.1) scale(1,1.087)">10</text>
<text x="0" y="0" font-size="63.5" text-anchor="end" style="font-family:&quot;Liberation Sans&quot;, sans-serif" transform="translate(172.6,301.9) scale(1,1.087)">12</text>
<text x="0" y="0" font-size="63.5" text-anchor="end" style="font-family:&quot;Liberation Sans&quot;, sans-serif" transform="translate(172.6,139.7) scale(1,1.087)">14</text>
<text x="0" y="0" font-size="63.5" text-anchor="middle" style="font-family:&quot;Liberation Sans&quot;, sans-serif" transform="translate(206.5,1343.1) scale(1,1.087)">0.0</text>
<text x="0" y="0" font-size="63.5" text-anchor="middle" style="font-family:&quot;Liberation Sans&quot;, sans-serif" transform="translate(457.7,1343.1) scale(1,1.087)">0.1</text>
<text x="0" y="0" font-size="63.5" text-anchor="middle" style="font-family:&quot;Liberation Sans&quot;, sans-serif" transform="translate(708.9,1343.1) scale(1,1.087)">0.2</text>
<text x="0" y="0" font-size="63.5" text-anchor="middle" style="font-family:&quot;Liberation Sans&quot;, sans-serif" transform="translate(960.1,1343.1) scale(1,1.087)">0.3</text>
<text x="0" y="0" font-size="63.5" text-anchor="middle" style="font-family:&quot;Liberation Sans&quot;, sans-serif" transform="translate(1211.4,1343.1) scale(1,1.087)">0.4</text>
<text x="0" y="0" font-size="63.5" text-anchor="middle" style="font-family:&quot;Liberation Sans&quot;, sans-serif" transform="translate(1462.6,1343.1) scale(1,1.087)">0.5</text>
<text x="0" y="0" font-size="63.5" text-anchor="middle" style="font-family:&quot;Liberation Sans&quot;, sans-serif" transform="translate(1713.8,1343.1) scale(1,1.087)">0.6</text>
<text x="0" y="0" font-size="63.5" text-anchor="middle" style="font-family:&quot;Liberation Sans&quot;, sans-serif" transform="translate(1965.0,1343.1) scale(1,1.087)">0.7</text>
<text x="0" y="0" font-size="63.98" style="font-family:&quot;Liberation Sans&quot;, sans-serif" transform="translate(988.82,1432.7) scale(1,1.0837)">Voltage (V)</text>
</g>
<g fill="#000" transform="translate(86,997.2) rotate(-90) scale(1,0.975)">
<text x="0" y="0" font-size="65.9" style="font-family:&quot;Liberation Sans&quot;, sans-serif">Current Density (mA/cm</text>
</g>
<g fill="#000" transform="translate(50.9,294.0) rotate(-90) scale(1,0.9286)">
<text x="0" y="0" font-size="41.5" style="font-family:&quot;Liberation Sans&quot;, sans-serif">2</text>
</g>
<g fill="#000" transform="translate(86,269.4) rotate(-90) scale(1,0.975)">
<text x="0" y="0" font-size="65.9" style="font-family:&quot;Liberation Sans&quot;, sans-serif">)</text>
</g>
<g>
<rect x="472" y="803" width="2.5" height="361" fill="#d0d0d0"/>
<rect x="1138.5" y="803" width="2.5" height="361" fill="#d0d0d0"/>
<rect x="1333.9" y="803" width="2" height="361" fill="#d0d0d0"/>
<rect x="1679.1" y="799" width="2.6" height="366" fill="#cccccc"/>
<rect x="469" y="799" width="1210" height="4" fill="#000"/>
<rect x="313" y="887.5" width="1366" height="2.5" fill="#b4b4b4"/>
<rect x="313" y="890" width="1366" height="3.3" fill="#404040"/>
<rect x="313" y="978" width="1366" height="5" fill="#808080"/>
<rect x="313" y="1068.5" width="1366" height="3" fill="#454545"/>
<rect x="313" y="1071.5" width="1366" height="2.5" fill="#a0a0a0"/>
<rect x="313" y="1159" width="1366" height="3" fill="#202020"/>
<rect x="313" y="1162" width="1366" height="2.5" fill="#d0d0d0"/>
<rect x="313" y="887.5" width="5.7" height="277" fill="#808080"/>
<rect x="469" y="799" width="3" height="365" fill="#202020"/>
<rect x="730.3" y="799" width="5.3" height="365" fill="#808080"/>
<rect x="1135.5" y="799" width="3" height="365" fill="#202020"/>
<rect x="1330.9" y="799" width="3" height="365" fill="#202020"/>
<rect x="1676.1" y="799" width="3" height="365" fill="#202020"/>
</g>
<g fill="#000" stroke="#fff" stroke-width="0.7">
<text x="0" y="0" font-size="58.03" style="font-family:&quot;Liberation Serif&quot;, serif;font-style:italic" transform="translate(519.97,876.21) scale(1,1.0083)">V</text>
<text x="0" y="0" font-size="37.71" style="font-family:&quot;Liberation Serif&quot;, serif;" transform="translate(557.46,877.35) scale(1,0.9427)">oc</text>
<text x="0" y="0" font-size="55.68" style="font-family:&quot;Liberation Serif&quot;, serif;" transform="translate(607.75,877.27) scale(1,1.0319)">(V)</text>
<text x="0" y="0" font-size="46.39" style="font-family:&quot;Liberation Serif&quot;, serif;font-style:italic" transform="translate(779.30,887.36) scale(1,1.6413)">J</text>
<text x="0" y="0" font-size="38.36" style="font-family:&quot;Liberation Serif&quot;, serif;" transform="translate(799.33,877.54) scale(1,0.9486)">sc</text>
<text x="0" y="0" font-size="62.08" style="font-family:&quot;Liberation Serif&quot;, serif;" transform="translate(845.37,876.95) scale(1,0.9344)">(mA/cm</text>
<text x="0" y="0" font-size="39.66" style="font-family:&quot;Liberation Serif&quot;, serif;" transform="translate(1050.36,860.90) scale(1,0.9215)">2</text>
<text x="0" y="0" font-size="52.17" style="font-family:&quot;Liberation Serif&quot;, serif;" transform="translate(1070.42,876.95) scale(1,1.1119)">)</text>
<text x="0" y="0" font-size="57.57" style="font-family:&quot;Liberation Serif&quot;, serif;" transform="translate(1202.04,875.80) scale(1,1.0319)">FF</text>
<text x="0" y="0" font-size="58.77" style="font-family:&quot;Liberation Serif&quot;, serif;" transform="translate(1382.71,877.19) scale(1,1.0099)">Efficiency</text>
<text x="0" y="0" font-size="58.98" style="font-family:&quot;Liberation Serif&quot;, serif" transform="translate(360.75,966.40) scale(1,1.0126)">S1</text>
<text x="0" y="0" font-size="56.94" style="font-family:&quot;Liberation Serif&quot;, serif" transform="translate(552.63,966.40) scale(1,1.0489)">0.68</text>
<text x="0" y="0" font-size="57.98" style="font-family:&quot;Liberation Serif&quot;, serif" transform="translate(869.30,966.40) scale(1,1.0300)">12.93</text>
<text x="0" y="0" font-size="57.24" style="font-family:&quot;Liberation Serif&quot;, serif" transform="translate(1184.92,966.40) scale(1,1.0433)">0.64</text>
<text x="0" y="0" font-size="57.90" style="font-family:&quot;Liberation Serif&quot;, serif" transform="translate(1422.04,966.40) scale(1,1.0314)">5.79 %</text>
<text x="0" y="0" font-size="58.67" style="font-family:&quot;Liberation Serif&quot;, serif" transform="translate(360.78,1056.20) scale(1,1.0180)">S2</text>
<text x="0" y="0" font-size="57.04" style="font-family:&quot;Liberation Serif&quot;, serif" transform="translate(552.63,1056.20) scale(1,1.0471)">0.69</text>
<text x="0" y="0" font-size="57.73" style="font-family:&quot;Liberation Serif&quot;, serif" transform="translate(869.33,1056.20) scale(1,1.0345)">10.06</text>
<text x="0" y="0" font-size="56.72" style="font-family:&quot;Liberation Serif&quot;, serif" transform="translate(1184.94,1056.20) scale(1,1.0528)">0.71</text>
<text x="0" y="0" font-size="57.10" style="font-family:&quot;Liberation Serif&quot;, serif" transform="translate(1424.28,1056.20) scale(1,1.0459)">4.97 %</text>
<text x="0" y="0" font-size="57.67" style="font-family:&quot;Liberation Serif&quot;, serif" transform="translate(360.84,1146.30) scale(1,1.0355)">S3</text>
<text x="0" y="0" font-size="56.94" style="font-family:&quot;Liberation Serif&quot;, serif" transform="translate(552.63,1146.30) scale(1,1.0489)">0.68</text>
<text x="0" y="0" font-size="58.43" style="font-family:&quot;Liberation Serif&quot;, serif" transform="translate(869.26,1146.30) scale(1,1.0222)">12.52</text>
<text x="0" y="0" font-size="57.72" style="font-family:&quot;Liberation Serif&quot;, serif" transform="translate(1184.90,1146.30) scale(1,1.0346)">0.66</text>
<text x="0" y="0" font-size="57.90" style="font-family:&quot;Liberation Serif&quot;, serif" transform="translate(1422.04,1146.30) scale(1,1.0314)">5.65 %</text>
</g>
</svg></body></html>
